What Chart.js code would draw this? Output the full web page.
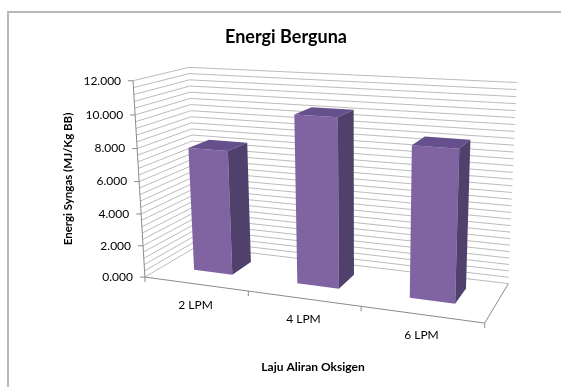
<!DOCTYPE html>
<html lang="en">
<head>
<meta charset="UTF-8">
<title>Energi Berguna</title>
<script src="https://cdn.jsdelivr.net/npm/chart.js"></script>
<style>
  html, body { margin: 0; padding: 0; background: #fff; }
  #chart { display: block; }
</style>
</head>
<body>
<canvas id="chart" width="561" height="387"></canvas>
<script>
// data
const categories = ['2 LPM', '4 LPM', '6 LPM'];
const energiSyngas = [7.75, 10.2, 8.9];
const yTickLabels = ['0.000', '2.000', '4.000', '6.000', '8.000', '10.000', '12.000'];

// where points of the 3D plot box land on screen
// [u (across), v (up), w (0 = back wall, 1 = front), screen x, screen y, weight]
const boxCorners = [
  [0, 1, 1, 133, 81, 40],
  [0, 10 / 12, 1, 135, 114, 4],
  [0, 6 / 12, 1, 139, 181, 4],
  [0, 2 / 12, 1, 143, 244, 4],
  [0, 0, 1, 145, 277, 40],
  [0, 1, 0, 190, 65, 2],
  [0, 0, 0, 196, 260, 0.5],
  [1, 1, 0, 517, 83, 2],
  [1, 0, 0, 506, 280, 1],
  [1, 0, 1, 485, 323, 10],
  [1 / 3, 0, 1, 248, 292, 5],
  [2 / 3, 0, 1, 361, 307, 5]
];
const barDepth = [0.26, 0.66];

// fit a perspective camera (3x4 matrix) to the points, weighted least squares
function fitCamera(pts) {
  const rows = [], rhs = [], wts = [];
  pts.forEach(([u, v, w, x, y, k]) => {
    x = (x - 300) / 100; y = (y - 200) / 100;
    rows.push([u, v, w, 1, 0, 0, 0, 0, -x * u, -x * v, -x * w]); rhs.push(x); wts.push(k);
    rows.push([0, 0, 0, 0, u, v, w, 1, -y * u, -y * v, -y * w]); rhs.push(y); wts.push(k);
  });
  const n = 11;
  const M = [];
  for (let i = 0; i < n; i++) {
    M.push(new Array(n + 1).fill(0));
    rows.forEach((r, k) => {
      for (let j = 0; j < n; j++) M[i][j] += wts[k] * r[i] * r[j];
      M[i][n] += wts[k] * r[i] * rhs[k];
    });
  }
  for (let c = 0; c < n; c++) {
    let p = c;
    for (let r = c + 1; r < n; r++) if (Math.abs(M[r][c]) > Math.abs(M[p][c])) p = r;
    [M[c], M[p]] = [M[p], M[c]];
    for (let r = 0; r < n; r++) {
      if (r === c) continue;
      const f = M[r][c] / M[c][c];
      for (let k = c; k <= n; k++) M[r][k] -= f * M[c][k];
    }
  }
  return M.map((row, i) => row[n] / row[i]);
}

const cam = fitCamera(boxCorners);

function project(u, v, w) {
  const d = cam[8] * u + cam[9] * v + cam[10] * w + 1;
  return {
    x: (cam[0] * u + cam[1] * v + cam[2] * w + cam[3]) / d * 100 + 300,
    y: (cam[4] * u + cam[5] * v + cam[6] * w + cam[7]) / d * 100 + 200
  };
}

function line(ctx, a, b) {
  ctx.beginPath();
  ctx.moveTo(a.x, a.y);
  ctx.lineTo(b.x, b.y);
  ctx.stroke();
}

function poly(ctx, pts, color) {
  ctx.beginPath();
  pts.forEach((p, i) => i ? ctx.lineTo(p.x, p.y) : ctx.moveTo(p.x, p.y));
  ctx.closePath();
  ctx.fillStyle = color;
  ctx.fill();
}

const box3d = {
  id: 'box3d',
  beforeDraw(chart) {
    const ctx = chart.ctx;
    ctx.save();
    ctx.fillStyle = '#fff';
    ctx.fillRect(0, 0, chart.width, chart.height);
    ctx.strokeStyle = '#b8b8b8';
    ctx.lineWidth = 2;
    ctx.strokeRect(8, 12, chart.width + 20, chart.height + 20);
    ctx.restore();
  },
  beforeDatasetsDraw(chart) {
    const ctx = chart.ctx;
    const area = chart.chartArea;
    const yScale = chart.scales.y;
    const xScale = chart.scales.x;
    const zero = yScale.getPixelForValue(yScale.min);
    const top = yScale.getPixelForValue(yScale.max);
    const vOf = val => (zero - yScale.getPixelForValue(val)) / (zero - top);

    ctx.save();
    // gridlines: major ticks plus four minor lines between each
    const ticks = yScale.ticks.map(t => t.value);
    const step = ticks[1] - ticks[0];
    ctx.strokeStyle = '#bcbcbc';
    ctx.lineWidth = 1;
    for (let val = yScale.min; val <= yScale.max + 1e-6; val += step / 5) {
      const v = vOf(val);
      line(ctx, project(0, v, 0), project(1, v, 0));
      line(ctx, project(0, v, 1), project(0, v, 0));
    }

    // floor edges, value axis and ticks
    ctx.strokeStyle = '#8c8c8c';
    line(ctx, project(0, 0, 1), project(1, 0, 1));
    line(ctx, project(1, 0, 1), project(1, 0, 0));
    line(ctx, project(0, 0, 1), project(0, 1, 1));
    ticks.forEach(val => {
      const p = project(0, vOf(val), 1);
      line(ctx, p, { x: p.x - 5, y: p.y });
    });
    for (let i = 0; i <= categories.length; i++) {
      const p = project(i / categories.length, 0, 1);
      line(ctx, p, { x: p.x, y: p.y + 5 });
    }

    // tick labels
    ctx.fillStyle = '#000';
    ctx.font = '12px Lato';
    ctx.textAlign = 'right';
    ctx.textBaseline = 'middle';
    ticks.forEach((val, i) => {
      const p = project(0, vOf(val), 1);
      ctx.fillText(yTickLabels[i], p.x - 12, p.y);
    });
    ctx.textAlign = 'center';
    categories.forEach((c, i) => {
      const u = (xScale.getPixelForValue(i) - area.left) / area.width;
      const p = project(u, 0, 1);
      ctx.fillText(c, p.x, p.y + 21);
    });

    // axis titles
    ctx.font = 'bold 12px Lato';
    ctx.fillText('Laju Aliran Oksigen', 313, 367);
    ctx.translate(68, 179);
    ctx.rotate(-Math.PI / 2);
    ctx.font = 'bold 11.5px Lato';
    ctx.fillText('Energi Syngas (MJ/Kg BB)', 0, 0);
    ctx.restore();
  },
  afterDatasetsDraw(chart) {
    const ctx = chart.ctx;
    const area = chart.chartArea;
    const yScale = chart.scales.y;
    const zero = yScale.getPixelForValue(yScale.min);
    const top = yScale.getPixelForValue(yScale.max);
    const [w0, w1] = barDepth;
    ctx.save();
    chart.getDatasetMeta(0).data.forEach(bar => {
      const u0 = (bar.x - bar.width / 2 - area.left) / area.width;
      const u1 = (bar.x + bar.width / 2 - area.left) / area.width;
      const h = (zero - bar.y) / (zero - top);
      // front
      poly(ctx, [project(u0, 0, w1), project(u1, 0, w1), project(u1, h, w1), project(u0, h, w1)], '#8064a2');
      // right side
      poly(ctx, [project(u1, 0, w1), project(u1, 0, w0), project(u1, h, w0), project(u1, h, w1)], '#50406c');
      // top
      poly(ctx, [project(u0, h, w1), project(u1, h, w1), project(u1, h, w0), project(u0, h, w0)], '#654f8c');
    });
    ctx.restore();
  }
};

new Chart(document.getElementById('chart'), {
  type: 'bar',
  data: {
    labels: categories,
    datasets: [{
      label: 'Energi Syngas',
      data: energiSyngas,
      backgroundColor: 'rgba(0,0,0,0)',
      borderWidth: 0,
      barPercentage: 0.38,
      categoryPercentage: 1
    }]
  },
  options: {
    responsive: false,
    animation: false,
    layout: { padding: { left: 11, right: 0, top: 0, bottom: 0 } },
    plugins: {
      legend: { display: false },
      tooltip: { enabled: false },
      title: {
        display: true,
        text: 'Energi Berguna',
        color: '#000',
        font: { family: 'Lato', size: 18, weight: 'bold' },
        padding: { top: 26, bottom: 10 }
      }
    },
    scales: {
      x: { display: false },
      y: { display: false, min: 0, max: 12, ticks: { stepSize: 2 } }
    }
  },
  plugins: [box3d]
});
</script>
</body>
</html>
